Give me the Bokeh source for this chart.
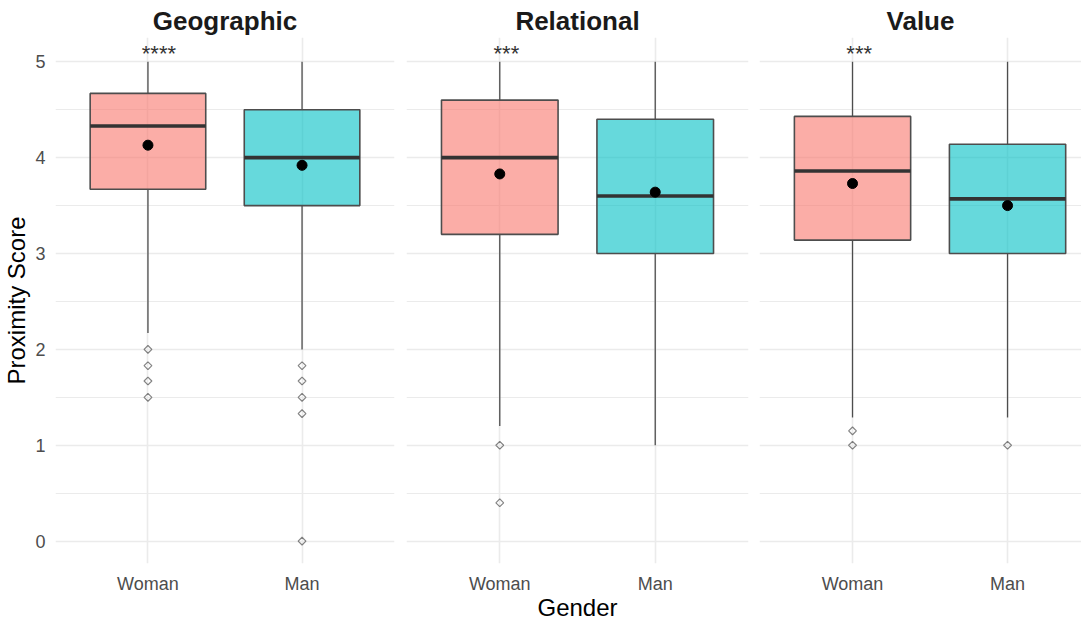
from bokeh.plotting import figure
from bokeh.layouts import row
from bokeh.models import FixedTicker, Range1d, ColumnDataSource
from bokeh.core.properties import value
from bokeh.embed import file_html
from bokeh.resources import INLINE

# Facets, groups and their summary statistics (one inner pair per facet: Woman, Man)
panels = ["Geographic", "Relational", "Value"]
genders = ["Woman", "Man"]
gender_pos = [1, 2]
gender_colors = ["#F8766D", "#00BFC4"]

box_q1 = [[3.67, 3.50], [3.20, 3.00], [3.14, 3.00]]
box_median = [[4.33, 4.00], [4.00, 3.60], [3.86, 3.57]]
box_q3 = [[4.67, 4.50], [4.60, 4.40], [4.43, 4.14]]
whisker_low = [[2.17, 2.00], [1.20, 1.00], [1.29, 1.29]]
whisker_high = [[5.00, 5.00], [5.00, 5.00], [5.00, 5.00]]
group_mean = [[4.13, 3.92], [3.83, 3.64], [3.73, 3.50]]
outliers = [
    [[2.00, 1.83, 1.67, 1.50], [1.83, 1.67, 1.50, 1.33, 0.00]],
    [[1.00, 0.40], []],
    [[1.15, 1.00], [1.00]],
]
signif_labels = ["****", "***", "***"]

y_ticks = [0, 1, 2, 3, 4, 5]
y_minor = [0.5, 1.5, 2.5, 3.5, 4.5]

FONT = "Liberation Sans"
GRID = "#EBEBEB"

# per-facet geometry of the three side-by-side figures
fig_widths = [400, 353, 328]
border_left = [53, 6, 6]
border_right = [6, 5, 0]
x_end = [2.6, 2.6, 2.477]

figs = []
for i, name in enumerate(panels):
    p = figure(
        width=fig_widths[i], height=623,
        x_range=Range1d(0.4, x_end[i]), y_range=Range1d(-0.233, 5.253),
        output_backend="svg", toolbar_location=None,
        min_border_left=border_left[i], min_border_right=border_right[i],
        min_border_top=37, min_border_bottom=60,
        y_axis_location="left" if i == 0 else None,
    )
    p.outline_line_color = None
    p.background_fill_color = "white"
    p.border_fill_color = "white"

    # facet strip title
    p.title.text = name
    p.title.align = "center"
    p.title.text_font = FONT
    p.title.text_font_size = "26px"
    p.title.text_font_style = "bold"
    p.title.text_color = "#1A1A1A"
    p.title.standoff = 4

    # grid
    p.ygrid.ticker = FixedTicker(ticks=y_ticks, minor_ticks=y_minor)
    p.ygrid.grid_line_color = GRID
    p.ygrid.grid_line_width = 1.6
    p.ygrid.minor_grid_line_color = GRID
    p.ygrid.minor_grid_line_width = 1.0
    p.xgrid.ticker = FixedTicker(ticks=gender_pos)
    p.xgrid.grid_line_color = GRID
    p.xgrid.grid_line_width = 1.6

    # x axis
    xa = p.xaxis[0]
    xa.ticker = FixedTicker(ticks=gender_pos)
    xa.major_label_overrides = {pos: g for pos, g in zip(gender_pos, genders)}
    xa.axis_line_color = None
    xa.major_tick_line_color = None
    xa.minor_tick_line_color = None
    xa.major_tick_out = 0
    xa.major_tick_in = 0
    xa.minor_tick_out = 0
    xa.minor_tick_in = 0
    xa.major_label_text_font = FONT
    xa.major_label_text_font_size = "18px"
    xa.major_label_text_color = "#4D4D4D"
    xa.major_label_standoff = 10
    if i == 1:
        xa.axis_label = "Gender"
        xa.axis_label_text_font = FONT
        xa.axis_label_text_font_size = "24px"
        xa.axis_label_text_font_style = "normal"
        xa.axis_label_text_color = "#000000"
        xa.axis_label_standoff = -3

    if i == 0:
        ya = p.yaxis[0]
        ya.ticker = FixedTicker(ticks=y_ticks)
        ya.axis_line_color = None
        ya.major_tick_line_color = None
        ya.minor_tick_line_color = None
        ya.major_tick_out = 0
        ya.major_tick_in = 0
        ya.minor_tick_out = 0
        ya.minor_tick_in = 0
        ya.major_label_text_font = FONT
        ya.major_label_text_font_size = "18px"
        ya.major_label_text_color = "#4D4D4D"
        ya.major_label_standoff = 10
        ya.axis_label = "Proximity Score"
        ya.axis_label_text_font = FONT
        ya.axis_label_text_font_size = "24px"
        ya.axis_label_text_font_style = "normal"
        ya.axis_label_text_color = "#000000"
        ya.axis_label_standoff = 2

    # whiskers
    p.segment(x0=gender_pos, y0=box_q3[i], x1=gender_pos, y1=whisker_high[i],
              line_color="#4D4D4D", line_width=1.3)
    p.segment(x0=gender_pos, y0=box_q1[i], x1=gender_pos, y1=whisker_low[i],
              line_color="#4D4D4D", line_width=1.3)

    # boxes
    p.vbar(x=gender_pos, width=0.75, bottom=box_q1[i], top=box_q3[i],
           fill_color=gender_colors, fill_alpha=0.6,
           line_color="#4D4D4D", line_width=1.6)

    # medians
    p.segment(x0=[g - 0.375 for g in gender_pos], y0=box_median[i],
              x1=[g + 0.375 for g in gender_pos], y1=box_median[i],
              line_color="#333333", line_width=3.6)

    # outliers (open diamonds)
    ox, oy = [], []
    for g, vals in zip(gender_pos, outliers[i]):
        ox += [g] * len(vals)
        oy += vals
    src = ColumnDataSource(dict(x=ox, y=oy))
    p.scatter(x="x", y="y", source=src, marker="square", angle=0.7854, size=5.5,
              fill_color=None, line_color="#333333", line_alpha=0.6, line_width=1.2)

    # group means
    p.scatter(x=gender_pos, y=group_mean[i], size=10, color="black")

    # significance label above the first group
    p.text(x=[gender_pos[0] - 0.04], y=[5.09], text=[signif_labels[i]],
           text_font=value(FONT), text_font_size="22px", text_align="left",
           text_baseline="alphabetic", text_color="#333333")

    figs.append(p)

layout = row(*figs, spacing=0)
open("out.html", "w").write(file_html(layout, INLINE))
